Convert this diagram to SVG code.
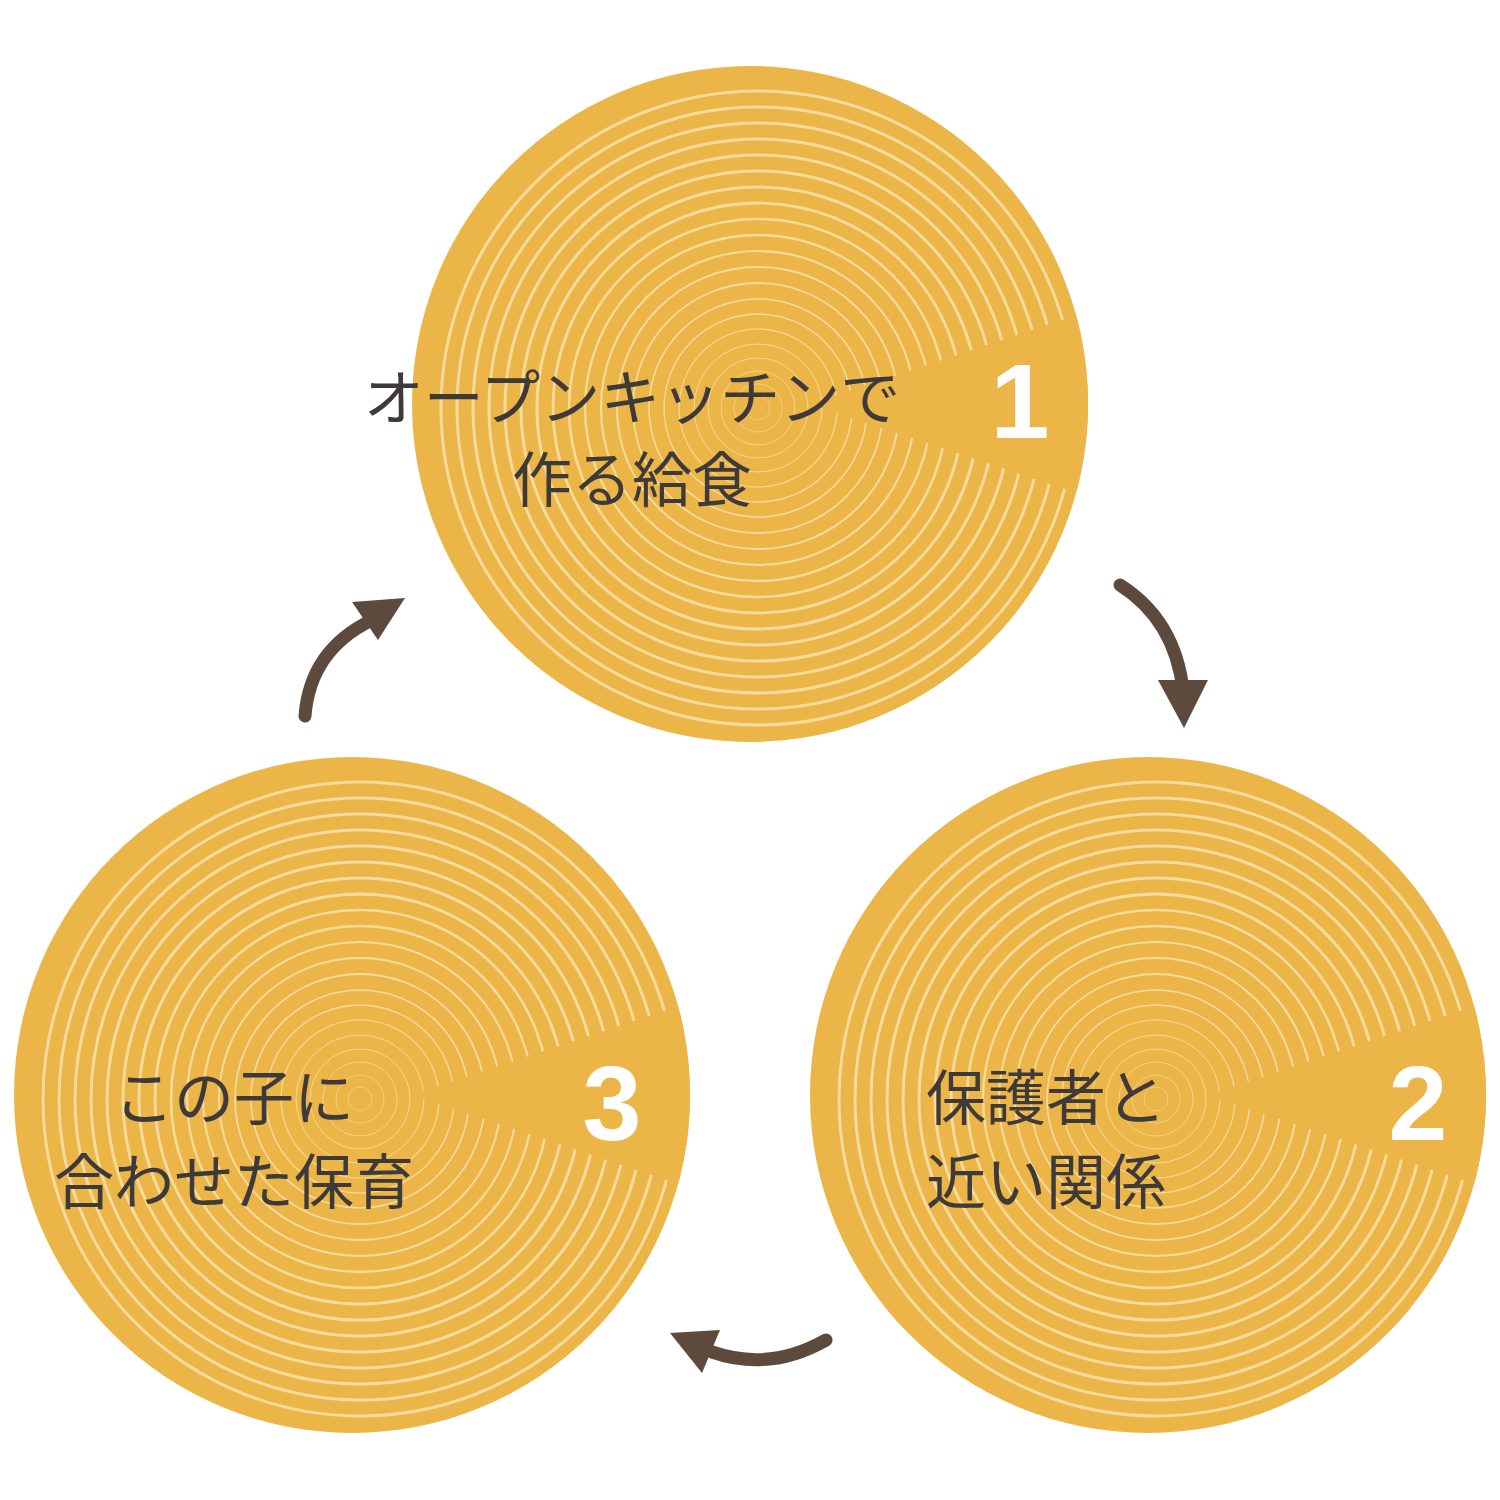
<svg xmlns="http://www.w3.org/2000/svg" xmlns:xlink="http://www.w3.org/1999/xlink" width="1500" height="1500" viewBox="0 0 1500 1500">
<style>
.ring{fill:none;stroke:#F7DA9C}
.lbl{font-family:"Noto Sans CJK JP",sans-serif;font-size:60px;fill:#3E3A39}
.num{font-family:"Liberation Sans",Arial,sans-serif;font-weight:bold;font-size:106px;fill:#fff;text-anchor:middle}
.arr{fill:none;stroke:#5E4A3C;stroke-width:13;stroke-linecap:round}
.head{fill:#5E4A3C}
</style>
<defs>
<clipPath id="cc"><circle r="338"/></clipPath>
<symbol id="log" overflow="visible">
<circle r="338" fill="#EBB547"/>
<g clip-path="url(#cc)">
<g transform="translate(8,4)">
<circle class="ring" r="12" stroke-width="0.6"/><circle class="ring" r="24" stroke-width="0.7"/><circle class="ring" r="37" stroke-width="0.8"/><circle class="ring" r="50" stroke-width="0.9"/><circle class="ring" r="64" stroke-width="1"/><circle class="ring" r="79" stroke-width="1.2"/><circle class="ring" r="94" stroke-width="1.4"/><circle class="ring" r="109" stroke-width="1.6"/><circle class="ring" r="125" stroke-width="1.8"/><circle class="ring" r="141" stroke-width="2"/><circle class="ring" r="157" stroke-width="2.2"/><circle class="ring" r="173" stroke-width="2.4"/><circle class="ring" r="189" stroke-width="2.6"/><circle class="ring" r="205" stroke-width="2.8"/><circle class="ring" r="221" stroke-width="3"/><circle class="ring" r="237" stroke-width="3"/><circle class="ring" r="253" stroke-width="3"/><circle class="ring" r="269" stroke-width="3"/><circle class="ring" r="285" stroke-width="3"/><circle class="ring" r="301" stroke-width="3"/><circle class="ring" r="317" stroke-width="3"/>
</g>
<path d="M60,0 L345,-95 L345,95 Z" fill="#EBB547"/>
</g>
</symbol>
</defs>
<g id="node1">
<use xlink:href="#log" x="750" y="404"/>
<text class="lbl" x="632" y="420" text-anchor="middle">オープンキッチンで</text>
<text class="lbl" x="632" y="502" text-anchor="middle">作る給食</text>
<text class="num" x="1020" y="438">1</text>
</g>
<g id="node2">
<use xlink:href="#log" x="1148" y="1095"/>
<text class="lbl" x="926" y="1120">保護者と</text>
<text class="lbl" x="926" y="1204">近い関係</text>
<text class="num" x="1418" y="1140">2</text>
</g>
<g id="node3">
<use xlink:href="#log" x="352" y="1095"/>
<text class="lbl" x="234" y="1120" text-anchor="middle">この子に</text>
<text class="lbl" x="234" y="1204" text-anchor="middle">合わせた保育</text>
<text class="num" x="612" y="1140">3</text>
</g>
<g id="connectors">
<path class="arr" d="M1120,585 Q1175,620 1183,690"/>
<path class="head" d="M1158,680 L1208,680 L1184,728 Z"/>
<path class="arr" d="M826,1340 Q770,1372 712,1352"/>
<path class="head" d="M670,1333 L720,1330 L702,1373 Z"/>
<path class="arr" d="M305,716 Q310,650 372,620"/>
<path class="head" d="M352,602 L405,598 L378,640 Z"/>
</g>
</svg>
